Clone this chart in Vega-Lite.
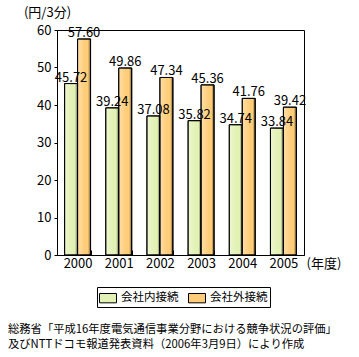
{
  "$schema": "https://vega.github.io/schema/vega-lite/v6.json",
  "autosize": "none",
  "width": 247,
  "height": 225,
  "padding": {"left": 57, "top": 30, "right": 55, "bottom": 102},
  "background": "white",
  "config": {
    "font": "Noto Sans CJK JP",
    "view": {"stroke": "black", "strokeWidth": 1},
    "axis": {"labelColor": "black", "titleColor": "black", "domainColor": "black", "tickColor": "black", "grid": false}
  },
  "title": {
    "text": ["総務省「平成16年度電気通信事業分野における競争状況の評価」", "及びNTTドコモ報道発表資料（2006年3月9日）により作成"],
    "orient": "bottom",
    "anchor": "start",
    "frame": "group",
    "dx": -49,
    "offset": 16,
    "fontSize": 11.3,
    "fontWeight": "normal",
    "lineHeight": 15,
    "color": "black"
  },
  "data": {
    "values": [
      {"year": "2000", "series": "会社内接続", "value": 45.72},
      {"year": "2000", "series": "会社外接続", "value": 57.60},
      {"year": "2001", "series": "会社内接続", "value": 39.24},
      {"year": "2001", "series": "会社外接続", "value": 49.86},
      {"year": "2002", "series": "会社内接続", "value": 37.08},
      {"year": "2002", "series": "会社外接続", "value": 47.34},
      {"year": "2003", "series": "会社内接続", "value": 35.82},
      {"year": "2003", "series": "会社外接続", "value": 45.36},
      {"year": "2004", "series": "会社内接続", "value": 34.74},
      {"year": "2004", "series": "会社外接続", "value": 41.76},
      {"year": "2005", "series": "会社内接続", "value": 33.84},
      {"year": "2005", "series": "会社外接続", "value": 39.42}
    ]
  },
  "encoding": {
    "x": {
      "field": "year", "type": "nominal",
      "scale": {"paddingInner": 0.37, "paddingOuter": 0.185},
      "axis": {
        "title": "(年度)", "titleX": 249, "titleY": 8, "titleAlign": "left", "titleBaseline": "middle",
        "titleFontSize": 13, "titleFontWeight": "normal",
        "labelAngle": 0, "labelFontSize": 13, "labelPadding": 7,
        "tickBand": "extent", "tickSize": -5, "tickWidth": 1
      }
    },
    "xOffset": {"field": "series", "type": "nominal"},
    "y": {
      "field": "value", "type": "quantitative",
      "scale": {"domain": [0, 60], "nice": false},
      "axis": {
        "values": [0, 10, 20, 30, 40, 50, 60],
        "title": "(円/3分)", "titleAngle": 0, "titleX": -10, "titleY": -18,
        "titleAlign": "center", "titleBaseline": "middle", "titleFontSize": 13, "titleFontWeight": "normal",
        "labelFontSize": 13, "tickSize": 3, "labelPadding": 3
      }
    }
  },
  "layer": [
    {
      "mark": {"type": "bar", "stroke": "black", "strokeWidth": 1},
      "encoding": {
        "color": {
          "field": "series", "type": "nominal",
          "scale": {"domain": ["会社内接続", "会社外接続"], "range": ["#E2F1B4", "#FFCC77"]},
          "legend": {
            "title": null, "orient": "none", "legendX": 40, "legendY": 257, "direction": "horizontal",
            "strokeColor": "black", "padding": 2,
            "symbolType": "M-1,-0.55L1,-0.55L1,0.55L-1,0.55Z", "symbolSize": 289,
            "symbolStrokeColor": "black", "symbolStrokeWidth": 1, "symbolOpacity": 1,
            "labelFontSize": 11.5, "labelOffset": 4, "columnPadding": 7, "labelColor": "black"
          }
        }
      }
    },
    {
      "mark": {
        "type": "bar",
        "fill": {"gradient": "linear", "x1": 0, "x2": 1, "y1": 0, "y2": 0,
          "stops": [
            {"offset": 0, "color": "rgba(255,255,255,0.35)"},
            {"offset": 0.6, "color": "rgba(255,255,255,0)"},
            {"offset": 0.8, "color": "rgba(0,0,0,0)"},
            {"offset": 1, "color": "rgba(0,0,0,0.55)"}
          ]},
        "stroke": "black", "strokeWidth": 1
      },
      "encoding": {}
    },
    {
      "mark": {"type": "text", "baseline": "alphabetic", "dy": -2, "fontSize": 13, "color": "black"},
      "encoding": {
        "text": {"field": "value", "type": "quantitative", "format": ".2f"}
      }
    }
  ]
}
